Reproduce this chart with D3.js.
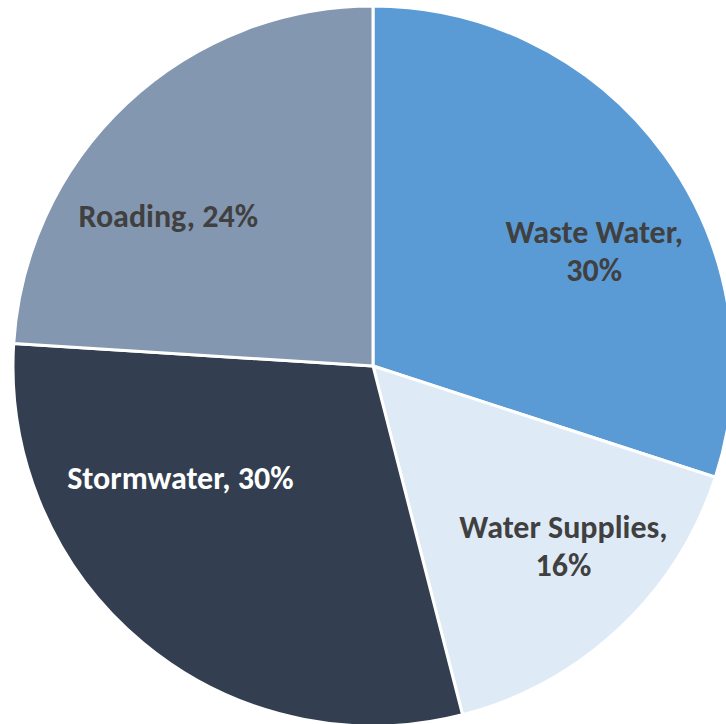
<!DOCTYPE html>
<html>
<head>
<meta charset="utf-8">
<script src="https://cdn.jsdelivr.net/npm/d3@7"></script>
<style>
  html, body { margin: 0; padding: 0; background: #fff; }
  svg { display: block; }
  .lbl { font-family: Carlito, "Open Sans", Lato, sans-serif; font-weight: bold; font-size: 32px; }
</style>
</head>
<body>
<div id="chart"></div>
<script>
var categories = ['Waste Water', 'Water Supplies', 'Stormwater', 'Roading'];
var shares     = [30, 16, 30, 24];
var colours    = ['#5b9bd5', '#deebf7', '#333f50', '#8497b0'];
var labelInk   = ['#404040', '#404040', '#ffffff', '#404040'];

var W = 726, H = 724,
    cx = 373, cy = 366, R = 360;

/* Excel "best fit" spots: centroid at a fraction of R, then a nudge */
var labelAt = [
  { k: 0.66, dx: 29,  dy: 25 },
  { k: 0.72, dx: 13,  dy: -9 },
  { k: 0.60, dx: -55, dy: -53 },
  { k: 0.62, dx: -52, dy: 14 }
];

var svg = d3.select('#chart').append('svg')
  .attr('width', W)
  .attr('height', H);

var g = svg.append('g')
  .attr('transform', 'translate(' + cx + ',' + cy + ')');

var pie = d3.pie().sort(null).value(function (d) { return d; });
var arcs = pie(shares);

var arc = d3.arc().innerRadius(0).outerRadius(R);

g.selectAll('path.slice')
  .data(arcs)
  .enter().append('path')
  .attr('class', 'slice')
  .attr('d', arc)
  .attr('fill', function (d, i) { return colours[i]; })
  .attr('stroke', '#ffffff')
  .attr('stroke-width', 3)
  .attr('stroke-linejoin', 'round');

var labels = g.selectAll('text.lbl')
  .data(arcs)
  .enter().append('text')
  .attr('class', 'lbl')
  .attr('text-anchor', 'middle')
  .attr('fill', function (d, i) { return labelInk[i]; })
  .attr('transform', function (d, i) {
    var p = labelAt[i];
    var c = d3.arc().innerRadius(R * p.k).outerRadius(R * p.k).centroid(d);
    return 'translate(' + (c[0] + p.dx) + ',' + (c[1] + p.dy) + ')';
  });

labels.each(function (d, i) {
  var t = d3.select(this);
  var name = categories[i], pct = shares[i] + '%';
  // the two long names wrap onto a second line, like the original
  if (name === 'Waste Water' || name === 'Water Supplies') {
    t.append('tspan').attr('x', 0).attr('y', -8).text(name + ',');
    t.append('tspan').attr('x', 0).attr('y', 30).text(pct);
  } else {
    t.append('tspan').attr('x', 0).attr('y', 10).text(name + ', ' + pct);
  }
});
</script>
</body>
</html>
